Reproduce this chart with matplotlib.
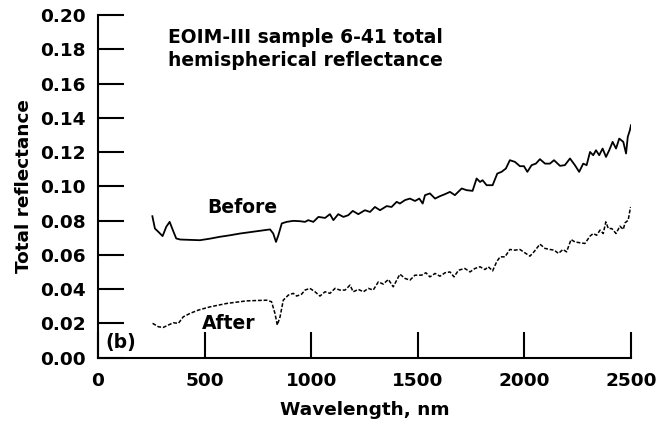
import matplotlib
matplotlib.use("Agg")
import matplotlib.pyplot as plt

# Before exposure (solid)
before_wl = [255, 267, 283, 303, 320, 336, 351, 367, 386, 430, 478, 525, 572, 620,
             666, 713, 760, 807, 822, 835, 846, 862, 885, 916, 947, 971, 986, 1010,
             1034, 1065, 1088, 1104, 1127, 1151, 1174, 1195, 1221, 1252, 1276, 1299,
             1323, 1354, 1377, 1401, 1416, 1440, 1463, 1487, 1507, 1523, 1534, 1557,
             1581, 1604, 1628, 1651, 1674, 1706, 1729, 1757, 1776, 1792, 1804, 1823,
             1851, 1873, 1893, 1913, 1932, 1956, 1979, 1998, 2014, 2034, 2054, 2073,
             2097, 2120, 2139, 2167, 2190, 2214, 2237, 2257, 2276, 2292, 2308, 2323,
             2336, 2351, 2367, 2383, 2398, 2414, 2430, 2445, 2464, 2477, 2485, 2495, 2500]
before_refl = [0.0826, 0.0754, 0.0735, 0.0710, 0.0764, 0.0793, 0.0745, 0.0696, 0.0690,
               0.0688, 0.0686, 0.0695, 0.0706, 0.0715, 0.0725, 0.0733, 0.0741, 0.0749,
               0.0725, 0.0676, 0.0715, 0.0784, 0.0793, 0.0799, 0.0797, 0.0793, 0.0803,
               0.0793, 0.0822, 0.0816, 0.0838, 0.0803, 0.0838, 0.0822, 0.0832, 0.0857,
               0.0838, 0.0861, 0.0851, 0.0880, 0.0861, 0.0885, 0.0880, 0.0910, 0.0900,
               0.0920, 0.0929, 0.0915, 0.0929, 0.0900, 0.0949, 0.0959, 0.0929, 0.0943,
               0.0955, 0.0968, 0.0949, 0.0988, 0.0978, 0.0974, 0.1046, 0.1026, 0.1036,
               0.1007, 0.1007, 0.1075, 0.1085, 0.1104, 0.1153, 0.1143, 0.1118, 0.1118,
               0.1085, 0.1124, 0.1133, 0.1159, 0.1133, 0.1133, 0.1153, 0.1120, 0.1124,
               0.1163, 0.1124, 0.1085, 0.1133, 0.1124, 0.1201, 0.1182, 0.1211, 0.1182,
               0.1221, 0.1172, 0.1211, 0.1260, 0.1221, 0.1279, 0.1260, 0.1192, 0.1289,
               0.1328, 0.1357]

# After exposure (dashed)
after_wl = [256, 283, 306, 330, 353, 377, 400, 432, 470, 525, 604, 697, 791, 814, 830,
            841, 854, 869, 893, 916, 932, 955, 971, 994, 1018, 1041, 1065, 1088, 1112,
            1135, 1159, 1182, 1197, 1221, 1245, 1268, 1291, 1315, 1338, 1362, 1385,
            1416, 1440, 1463, 1487, 1518, 1538, 1557, 1581, 1604, 1628, 1651, 1670,
            1691, 1721, 1745, 1768, 1792, 1815, 1831, 1851, 1870, 1886, 1909, 1932,
            1956, 1979, 2003, 2026, 2045, 2073, 2097, 2120, 2140, 2160, 2181, 2198,
            2219, 2237, 2261, 2284, 2308, 2323, 2339, 2355, 2370, 2382, 2394, 2410,
            2430, 2448, 2464, 2472, 2487, 2498]
after_refl = [0.0201, 0.0181, 0.0177, 0.0191, 0.0204, 0.0201, 0.0239, 0.0259, 0.0278,
              0.0297, 0.0317, 0.0332, 0.0336, 0.0327, 0.0259, 0.0191, 0.0239, 0.0336,
              0.0366, 0.0376, 0.0360, 0.0371, 0.0395, 0.0405, 0.0385, 0.0360, 0.0385,
              0.0376, 0.0405, 0.0395, 0.0395, 0.0424, 0.0385, 0.0399, 0.0385, 0.0405,
              0.0395, 0.0443, 0.0430, 0.0457, 0.0414, 0.0488, 0.0463, 0.0453, 0.0482,
              0.0482, 0.0496, 0.0472, 0.0492, 0.0476, 0.0496, 0.0501, 0.0472, 0.0511,
              0.0521, 0.0501, 0.0521, 0.0531, 0.0515, 0.0531, 0.0507, 0.0560, 0.0589,
              0.0589, 0.0632, 0.0628, 0.0632, 0.0612, 0.0593, 0.0618, 0.0663, 0.0638,
              0.0632, 0.0628, 0.0609, 0.0632, 0.0618, 0.0690, 0.0676, 0.0671, 0.0667,
              0.0710, 0.0725, 0.0715, 0.0745, 0.0725, 0.0793, 0.0754, 0.0754, 0.0725,
              0.0768, 0.0749, 0.0787, 0.0803, 0.0880]

x_ticks = [0, 500, 1000, 1500, 2000, 2500]
y_ticks = [0.00, 0.02, 0.04, 0.06, 0.08, 0.10, 0.12, 0.14, 0.16, 0.18, 0.20]

# wide bold face, close to the scanned Helvetica look
plt.rcParams['font.family'] = ['DejaVu Sans']
plt.rcParams['font.weight'] = 'bold'

fig = plt.figure(figsize=(6.6, 4.3), dpi=100)
ax = fig.add_axes([0.1485, 0.168, 0.8075, 0.797])

ax.plot(before_wl, before_refl, color="black", linewidth=1.3)
ax.plot(after_wl, after_refl, color="black", linewidth=1.1, linestyle=(0, (2.5, 1.2)))

ax.set_xlim(0, 2500)
ax.set_ylim(0, 0.20)
ax.set_xticks(x_ticks)
ax.set_yticks(y_ticks)
ax.set_xticklabels([str(t) for t in x_ticks])
ax.set_yticklabels([f"{t:.2f}" for t in y_ticks])
ax.tick_params(axis="both", direction="in", length=19, width=1.5, labelsize=13.3)
ax.tick_params(axis="y", pad=9)
ax.tick_params(axis="x", pad=10)

ax.spines["top"].set_visible(False)
ax.spines["right"].set_visible(False)
ax.spines["left"].set_linewidth(1.5)
ax.spines["bottom"].set_linewidth(1.5)

ax.set_xlabel("Wavelength, nm", fontsize=13.3, fontweight="bold", labelpad=8)
ax.set_ylabel("Total reflectance", fontsize=13.3, fontweight="bold", labelpad=5)

ax.text(330, 0.1925, "EOIM-III sample 6-41 total\nhemispherical reflectance",
        fontsize=13.5, fontweight="bold", va="top", ha="left", linespacing=1.3)
ax.text(675, 0.0879, "Before", fontsize=13.5, fontweight="bold", ha="center", va="center")
ax.text(614, 0.0201, "After", fontsize=13.5, fontweight="bold", ha="center", va="center")
ax.text(33, 0.009, "(b)", fontsize=13.5, fontweight="bold", ha="left", va="center")

fig.savefig("out.png", dpi=100)
